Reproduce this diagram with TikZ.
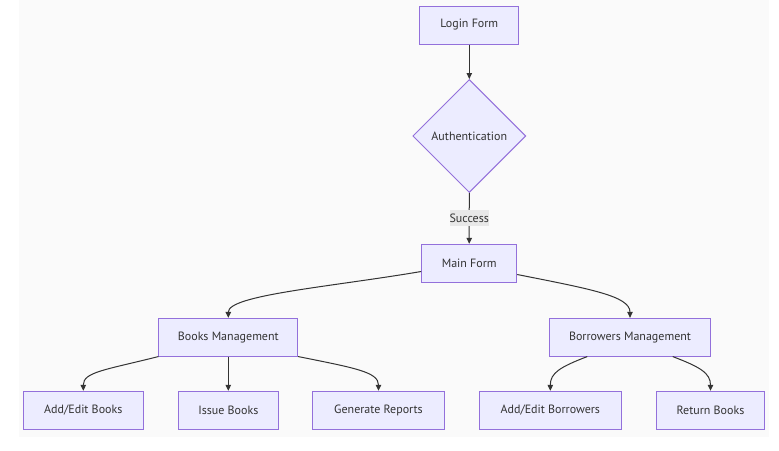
\documentclass[tikz,border=0pt]{standalone}
\usepackage{fontspec}
\setmainfont{PT Sans}
\usetikzlibrary{shapes.geometric,arrows.meta}
\definecolor{nodefill}{HTML}{ECECFF}
\definecolor{nodeline}{HTML}{9370DB}
\definecolor{txt}{HTML}{333333}
\definecolor{edge}{HTML}{333333}
\definecolor{canvas}{HTML}{FAFAFA}
\definecolor{lblbg}{HTML}{E8E8E8}
\tikzset{
  box/.style={draw=nodeline, fill=nodefill, line width=1pt, text=txt, font=\fontsize{12}{14}\selectfont, inner sep=0pt, minimum height=38pt},
  dia/.style={diamond, draw=nodeline, fill=nodefill, line width=1pt, text=txt, font=\fontsize{12}{14}\selectfont, inner sep=0pt, aspect=1, minimum width=113pt, minimum height=113pt},
  conn/.style={draw=edge, line width=1pt, -{Triangle[length=6pt,width=5.5pt]}},
  lbl/.style={fill=lblbg, text=txt, font=\fontsize{12}{14}\selectfont, inner sep=0pt, minimum width=38pt, minimum height=16pt}
}
\begin{document}
\begin{tikzpicture}[x=1pt,y=-1pt]
\useasboundingbox (0,0) rectangle (779,450);
\fill[canvas] (19,0) rectangle (769,436.5);
\node[box, minimum width=98.7pt] (login) at (469.3,25) {Login Form};
\node[dia] (auth) at (469.3,136) {Authentication};
\node[box, minimum width=95pt, minimum height=38.4pt] (main) at (469.2,263.5) {Main Form};
\node[box, minimum width=138.7pt, minimum height=37.7pt] (books) at (228.3,337.2) {Books Management};
\node[box, minimum width=161.4pt, minimum height=37.7pt] (borr) at (630,337.2) {Borrowers Management};
\node[box, minimum width=120pt] (addb) at (83.3,410.3) {Add/Edit Books};
\node[box, minimum width=99.4pt] (issue) at (228.3,410.3) {Issue Books};
\node[box, minimum width=131.6pt] (gen) at (378.5,410.3) {Generate Reports};
\node[box, minimum width=142pt] (addbr) at (550.3,410.3) {Add/Edit Borrowers};
\node[box, minimum width=107.6pt] (ret) at (710.5,410.3) {Return Books};

\draw[conn] (login) -- (auth);
\draw[conn] (auth) -- (main) node[lbl, midway] (succ) {Success};
\draw[conn] ([yshift=-8pt]main.west) .. controls (330,287) and (228.3,295) .. (books.north);
\draw[conn] ([yshift=-11pt]main.east) .. controls (590,289) and (630,296) .. (borr.north);
\draw[conn] (books.south west) .. controls (105,370) and (83.3,372) .. (addb.north);
\draw[conn] (books.south) -- (issue.north);
\draw[conn] (books.south east) .. controls (355,368) and (378.5,372) .. (gen.north);
\draw[conn] ([xshift=-42.7pt]borr.south) .. controls (560,367) and (550.3,373) .. (addbr.north);
\draw[conn] ([xshift=42.7pt]borr.south) .. controls (700,367) and (710.5,373) .. (ret.north);
\end{tikzpicture}
\end{document}
